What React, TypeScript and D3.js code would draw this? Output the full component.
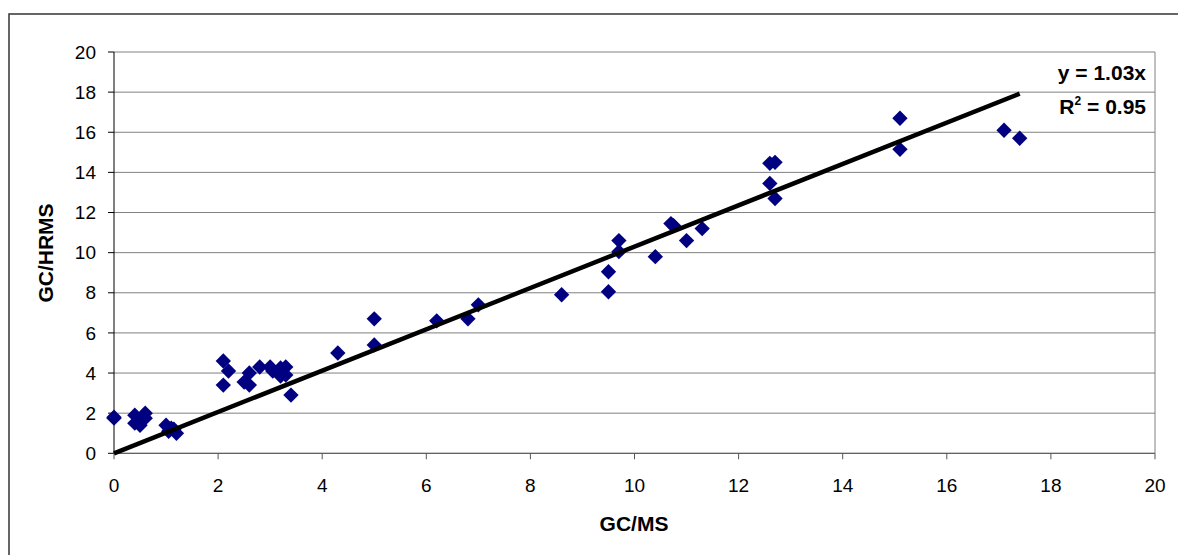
import React from "react";
import * as d3 from "d3";

const gcms: number[] = [
  0.0, 0.0, 0.4, 0.6, 0.6, 0.4, 0.5, 0.5, 1.0, 1.1, 1.2, 1.05, 1.15,
  2.1, 2.2, 2.1, 2.5, 2.6, 2.6, 2.8, 3.0, 3.05, 3.2, 3.3, 3.2, 3.3, 3.4,
  4.3, 5.0, 5.0, 6.2, 6.8, 7.0, 8.6, 9.5, 9.5, 9.7, 9.7, 10.4, 10.7, 10.75,
  11.0, 11.3, 12.6, 12.7, 12.6, 12.7, 15.1, 15.1, 17.1, 17.4,
];
const gchrms: number[] = [
  1.8, 1.75, 1.9, 2.0, 1.75, 1.5, 1.4, 1.65, 1.4, 1.25, 1.0, 1.1, 1.2,
  4.6, 4.1, 3.4, 3.55, 4.0, 3.4, 4.3, 4.3, 4.1, 4.25, 4.3, 3.85, 3.9, 2.9,
  5.0, 5.4, 6.7, 6.6, 6.7, 7.4, 7.9, 8.05, 9.05, 10.05, 10.6, 9.8, 11.45, 11.35,
  10.6, 11.2, 14.45, 14.5, 13.45, 12.7, 16.7, 15.15, 16.1, 15.7,
];
const xTicks: number[] = [0, 2, 4, 6, 8, 10, 12, 14, 16, 18, 20];
const yTicks: number[] = [0, 2, 4, 6, 8, 10, 12, 14, 16, 18, 20];
const slope = 1.03;
const equationLabel = "y = 1.03x";
const r2Value = "0.95";
const xTitle = "GC/MS";
const yTitle = "GC/HRMS";

const W = 1178;
const H = 555;
const L = 114, R = 1155, T = 52, B = 453.3;

export default function App() {
  const x = d3.scaleLinear().domain([0, 20]).range([L, R]);
  const y = d3.scaleLinear().domain([0, 20]).range([B, T]);
  const font = "'Liberation Sans', Arial, sans-serif";
  const xMax = d3.max(gcms) as number;
  const line = d3.line<number>().x((d) => x(d)).y((d) => y(slope * d));
  const diamond = d3.symbol().type(d3.symbolDiamond2).size(150)();
  return (
    <svg width={W} height={H} style={{ position: "absolute", left: 0, top: 0, background: "#fff" }}>
      <rect x={9} y={14} width={1300} height={700} fill="#fff" stroke="#333" strokeWidth={1.5} />
      {yTicks.map((t) => (
        <line key={"g" + t} x1={L} x2={R} y1={y(t)} y2={y(t)} stroke="#808080" strokeWidth={1} />
      ))}
      <line x1={R} x2={R} y1={T} y2={B} stroke="#808080" strokeWidth={1} />
      <line x1={L} x2={R} y1={B} y2={B} stroke="#555" strokeWidth={1} />
      <line x1={L} x2={L} y1={T} y2={B} stroke="#000" strokeWidth={1} />
      {yTicks.map((t) => (
        <g key={"yt" + t}>
          <line x1={L - 6} x2={L} y1={y(t)} y2={y(t)} stroke="#000" />
          <text x={L - 18} y={y(t)} dy="0.35em" textAnchor="end" fontFamily={font} fontSize={19} fill="#000">
            {t}
          </text>
        </g>
      ))}
      {xTicks.map((t) => (
        <g key={"xt" + t}>
          <line x1={x(t)} x2={x(t)} y1={B} y2={B + 6} stroke="#555" />
          <text x={x(t)} y={492} textAnchor="middle" fontFamily={font} fontSize={19} fill="#000">
            {t}
          </text>
        </g>
      ))}
      {gcms.map((v, i) => (
        <path key={"p" + i} d={diamond} transform={`translate(${x(v)},${y(gchrms[i])})`} fill="#000080" />
      ))}
      <path d={line([0, xMax]) as string} stroke="#000" strokeWidth={4.5} fill="none" />
      <text x={1146} y={80} textAnchor="end" fontFamily={font} fontSize={21} fontWeight="bold" fill="#000">
        {equationLabel}
      </text>
      <text x={1146} y={114} textAnchor="end" fontFamily={font} fontSize={21} fontWeight="bold" fill="#000">
        R<tspan fontSize={12} dy={-9}>2</tspan>
        <tspan dy={9}> = {r2Value}</tspan>
      </text>
      <text x={634} y={531} textAnchor="middle" fontFamily={font} fontSize={21} fontWeight="bold" fill="#000">
        {xTitle}
      </text>
      <text transform="translate(53,253) rotate(-90)" textAnchor="middle" fontFamily={font} fontSize={21} fontWeight="bold" fill="#000">
        {yTitle}
      </text>
    </svg>
  );
}
